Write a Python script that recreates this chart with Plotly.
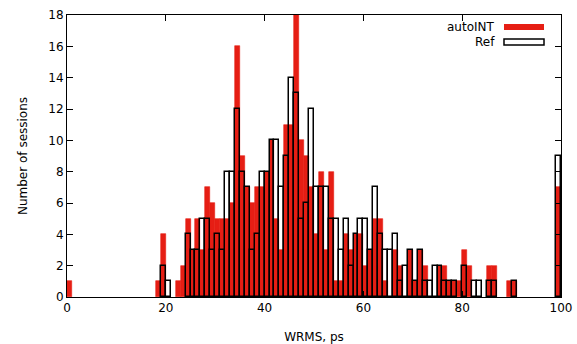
import plotly.graph_objects as go

# Histogram bins: [k, k+1], value = number of sessions
auto_bins = [0, 18, 19, 22, 23, 24, 25, 26, 27, 28, 29, 30, 31, 32, 33, 34, 35, 36, 37, 38,
             39, 40, 41, 42, 43, 44, 45, 46, 47, 48, 49, 50, 51, 52, 53, 54, 55, 56, 57, 58,
             59, 60, 61, 62, 63, 64, 66, 67, 69, 70, 71, 72, 75, 76, 77, 78, 79, 80, 81, 85,
             86, 89, 90, 99]
auto_counts = [1, 1, 4, 1, 2, 5, 3, 5, 3, 7, 6, 5, 5, 5, 6, 16, 9, 7, 6, 7,
               7, 8, 10, 5, 3, 11, 11, 18, 10, 9, 7, 4, 8, 3, 8, 1, 1, 4, 3, 4,
               4, 2, 3, 5, 5, 1, 3, 2, 3, 1, 3, 2, 2, 2, 1, 1, 1, 3, 2, 2,
               2, 1, 1, 7]

ref_bins = [19, 20, 24, 25, 26, 27, 28, 29, 30, 31, 32, 33, 34, 35, 36, 37, 38, 39, 40, 41,
            42, 43, 44, 45, 46, 47, 48, 49, 50, 51, 52, 53, 54, 55, 56, 57, 58, 59, 60, 61,
            62, 63, 64, 65, 66, 67, 68, 69, 70, 71, 72, 73, 74, 75, 76, 77, 78, 80, 82, 83,
            85, 86, 90, 99]
ref_counts = [2, 1, 4, 3, 3, 5, 5, 3, 4, 3, 8, 8, 12, 8, 7, 3, 4, 8, 8, 10,
              10, 7, 9, 14, 13, 5, 6, 12, 7, 7, 7, 5, 5, 3, 5, 2, 4, 5, 5, 3,
              7, 4, 3, 3, 4, 1, 2, 3, 1, 3, 1, 1, 2, 2, 1, 1, 1, 2, 1, 1,
              1, 1, 1, 9]

x_ticks = [0, 20, 40, 60, 80, 100]
y_ticks = [0, 2, 4, 6, 8, 10, 12, 14, 16, 18]

RED = "#e61e14"
FONT = "DejaVu Sans"

fig = go.Figure()
fig.add_trace(go.Bar(
    x=[b + 0.5 for b in auto_bins], y=auto_counts, width=1.0,
    marker=dict(color=RED, line=dict(color=RED, width=0.6)), name="autoINT", showlegend=False))
fig.add_trace(go.Bar(
    x=[b + 0.5 for b in ref_bins], y=ref_counts, width=1.0,
    marker=dict(color="rgba(0,0,0,0)", line=dict(color="black", width=1.5)),
    name="Ref", showlegend=False))

fig.update_layout(
    width=577, height=344,
    margin=dict(l=67, r=16, t=15, b=47, autoexpand=False),
    barmode="overlay", bargap=0,
    plot_bgcolor="white", paper_bgcolor="white",
    font=dict(family=FONT, size=12, color="black"),
)
fig.update_xaxes(
    range=[0, 100], tickvals=x_ticks, ticktext=[str(v) for v in x_ticks],
    ticks="inside", ticklen=6, tickwidth=1, tickcolor="black",
    mirror="allticks", showline=True, linecolor="black", linewidth=1,
    showgrid=False, zeroline=False, automargin=False,
    title=dict(text="WRMS, ps", standoff=20, font=dict(size=12)),
    tickfont=dict(size=12),
)
fig.update_yaxes(
    range=[0, 18], tickvals=y_ticks,
    ticks="inside", ticklen=6, tickwidth=1, tickcolor="black",
    mirror="allticks", showline=True, linecolor="black", linewidth=1,
    showgrid=False, zeroline=False, automargin=False,
    title=dict(text="Number of sessions", standoff=18, font=dict(size=12)),
    tickfont=dict(size=12),
)

# Legend drawn gnuplot-style: text then sample box
fig.add_annotation(xref="paper", yref="paper", x=0.870, y=0.957, text="autoINT",
                   showarrow=False, xanchor="right", yanchor="middle",
                   font=dict(family=FONT, size=12, color="black"))
fig.add_annotation(xref="paper", yref="paper", x=0.870, y=0.904, text="Ref",
                   showarrow=False, xanchor="right", yanchor="middle",
                   font=dict(family=FONT, size=12, color="black"))
fig.add_shape(type="rect", xref="paper", yref="paper", x0=0.8846, x1=0.9656,
              y0=0.947, y1=0.968, fillcolor=RED, line=dict(width=0))
fig.add_shape(type="rect", xref="paper", yref="paper", x0=0.8846, x1=0.9656,
              y0=0.894, y1=0.915, fillcolor="white", line=dict(color="black", width=1.5))

fig.write_html("out.html")
